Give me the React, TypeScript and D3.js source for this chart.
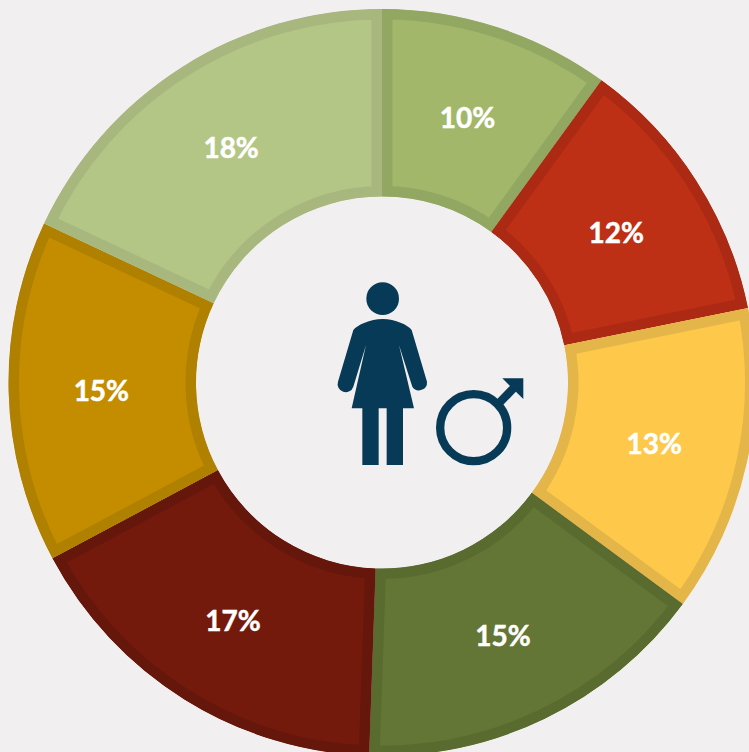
import React from "react";
import * as d3 from "d3";

const shares = [10, 11.8, 13.3, 15.45, 16.65, 14.8, 18];
const labels = ["10%", "12%", "13%", "15%", "17%", "15%", "18%"];
const fills = ["#a3b76b", "#bd3015", "#fec94b", "#647635", "#741a0d", "#c48d00", "#b4c686"];
const borders = ["#92a862", "#ac2a13", "#e4b548", "#5a6b30", "#66170b", "#b08000", "#a7b77e"];

const W = 749;
const H = 752;
const CX = 382;
const CY = 382.5;
const R_OUT = 373.5;
const R_IN = 186;
const BORDER = 10.5;
const INK = "#073a57";

const BODY =
  "M100 180 C112 165 150 147 188 147 C226 147 264 165 275 180 L321 335 A24 24 0 0 1 277 350 L237 225 L282 415 L249 415 L249 585 L200 585 L200 415 L176 415 L176 585 L127 585 L127 415 L95 415 L138 225 L100 350 A24 24 0 0 1 54 335 Z";

export default function App() {
  const pie = d3.pie<number>().sort(null).value((d) => d);
  const arc = d3.arc<d3.PieArcDatum<number>>().innerRadius(R_IN).outerRadius(R_OUT);
  const slices = pie(shares);
  return (
    <svg
      width={W}
      height={H}
      viewBox={`0 0 ${W} ${H}`}
      style={{ position: "absolute", left: 0, top: 0, background: "#f1eff0", display: "block" }}
    >
      <defs>
        {slices.map((s, i) => (
          <clipPath id={`slice-${i}`} key={i}>
            <path d={arc(s) ?? ""} />
          </clipPath>
        ))}
      </defs>
      <g transform={`translate(${CX},${CY})`}>
        {slices.map((s, i) => (
          <path
            key={i}
            d={arc(s) ?? ""}
            fill={fills[i]}
            stroke={borders[i]}
            strokeWidth={BORDER * 2}
            clipPath={`url(#slice-${i})`}
          />
        ))}
        {slices.map((s, i) => {
          const [x, y] = arc.centroid(s);
          return (
            <text
              key={i}
              x={x - 1}
              y={y + 1.5}
              dy="0.36em"
              textAnchor="middle"
              fill="#ffffff"
              stroke="#ffffff"
              strokeWidth={0.5}
              fontFamily="Lato, 'Open Sans', sans-serif"
              fontWeight={700}
              fontSize={28}
            >
              {labels[i]}
            </text>
          );
        })}
      </g>
      <g transform="translate(320,270) scale(0.3333)" fill={INK}>
        <circle cx={188} cy={86} r={49} />
        <path d={BODY} />
        <circle cx={461} cy={473} r={100.5} fill="none" stroke={INK} strokeWidth={25} />
        <line x1={535} y1={402} x2={585} y2={350} stroke={INK} strokeWidth={25} />
        <path d="M547 325 L610 325 L610 387 Z" />
      </g>
    </svg>
  );
}
